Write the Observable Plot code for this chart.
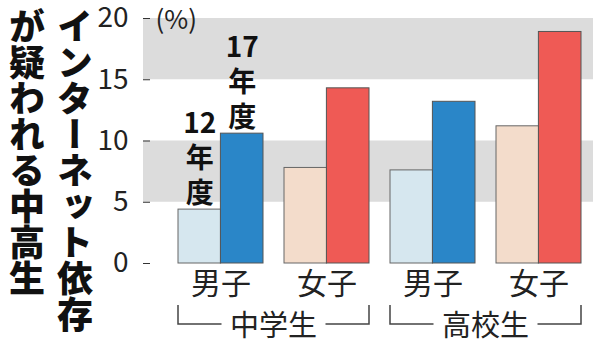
<!DOCTYPE html>
<html><head><meta charset="utf-8">
<script src="https://cdn.jsdelivr.net/npm/d3@7"></script>
<script src="https://cdn.jsdelivr.net/npm/@observablehq/plot@0.6"></script>
<style>
body{margin:0;background:#fff;}
#wrap{position:relative;width:600px;height:344px;font-family:"Noto Sans CJK JP";overflow:hidden;}
#wrap svg{position:absolute;left:0;top:0;}
.title{position:absolute;top:8px;left:3px;writing-mode:vertical-rl;font-weight:900;font-size:36px;line-height:48px;color:#111;white-space:nowrap;}
</style></head><body>
<div id="wrap"></div>
<script>
// ---- data ----
const titleLines = ["インターネット依存", "が疑われる中高生"];
const levels = ["中学生", "高校生"];
const sexes = ["男子", "女子"];
const years = ["12年度", "17年度"];
const v12 = [4.4, 7.8, 7.6, 11.2];
const v17 = [10.6, 14.3, 13.2, 18.9];
const yTicks = [0, 5, 10, 15, 20];
const bandLo = [5, 15];
const bandHi = [10, 20];
const unitLabel = "(%)";

// ---- tables ----
const groups = levels.flatMap(l => sexes.map(s => l + "|" + s));
const rows12 = groups.map((g, i) => ({g, sex: g.split("|")[1], v: v12[i]}));
const rows17 = groups.map((g, i) => ({g, sex: g.split("|")[1], v: v17[i]}));
const bands = bandLo.map((lo, i) => ({lo, hi: bandHi[i]}));
const stack = s => s.replace(/(\d+)(.)(.)/, "$1\n$2\n$3");
const ann12 = [{g: groups[0], v: v12[0], label: stack(years[0])}];
const ann17 = [{g: groups[0], v: v17[0], label: stack(years[1])}];

const wrap = document.getElementById("wrap");
const title = document.createElement("div");
title.className = "title";
title.innerHTML = titleLines.join("<br>");

const bw = 42.4;
const plot = Plot.plot({
  width: 600, height: 344,
  marginLeft: 143, marginRight: 7, marginTop: 18, marginBottom: 81,
  style: {fontFamily: '"Noto Sans CJK JP"', color: "#222", background: "transparent"},
  x: {domain: groups, padding: 0.2, paddingOuter: 0.222, align: 0.745},
  y: {domain: [0, 20]},
  marks: [
    Plot.rect(bands, {y1: "lo", y2: "hi", fill: "#dcdcdc"}),
    Plot.barY(rows12, {x: "g", y: "v", fill: d => d.sex === sexes[0] ? "#d6e7ef" : "#f3dccb", stroke: "#666", strokeWidth: 1, insetRight: bw}),
    Plot.barY(rows17, {x: "g", y: "v", fill: d => d.sex === sexes[0] ? "#2a86c8" : "#ef5a55", stroke: "#555", strokeWidth: 1, insetLeft: bw}),
    Plot.text(ann12, {x: "g", y: "v", text: "label", dx: -bw / 2, dy: -7, lineAnchor: "bottom", lineHeight: 1.25, fontSize: 28, fontWeight: "bold", fill: "#111"}),
    Plot.text(ann17, {x: "g", y: "v", text: "label", dx: bw / 2, dy: -7, lineAnchor: "bottom", lineHeight: 1.25, fontSize: 28, fontWeight: "bold", fill: "#111"}),
    Plot.axisY({ticks: yTicks, tickSize: -7, tickPadding: 22, fontSize: 28, line: true, stroke: "#333", label: null}),
    Plot.text([unitLabel], {frameAnchor: "top-left", dx: 12, dy: 2, textAnchor: "start", lineAnchor: "middle", fontSize: 26, fill: "#222"}),
    Plot.axisX({tickSize: 0, tickPadding: 9, fontSize: 30, tickFormat: d => d.split("|")[1], label: null})
  ]
});
wrap.appendChild(plot);
wrap.appendChild(title);

// ---- school-level brackets from the x scale ----
const xs = plot.scale("x");
const svg = d3.select(plot);
const yTop = 305, yBot = 324, yText = 323, gap = 52;
levels.forEach(l => {
  const x1 = xs.apply(l + "|" + sexes[0]);
  const x2 = xs.apply(l + "|" + sexes[1]) + xs.bandwidth;
  const mid = (x1 + x2) / 2;
  const g = svg.append("g").attr("fill", "none").attr("stroke", "#444").attr("stroke-width", 1.5);
  g.append("path").attr("d", `M${x1},${yTop}V${yBot}H${mid - gap}`);
  g.append("path").attr("d", `M${x2},${yTop}V${yBot}H${mid + gap}`);
  svg.append("text").attr("x", mid).attr("y", yText).attr("text-anchor", "middle")
    .attr("dominant-baseline", "central").attr("font-size", 29).attr("fill", "#222")
    .attr("font-family", '"Noto Sans CJK JP"').text(l);
});
</script>
</body></html>
